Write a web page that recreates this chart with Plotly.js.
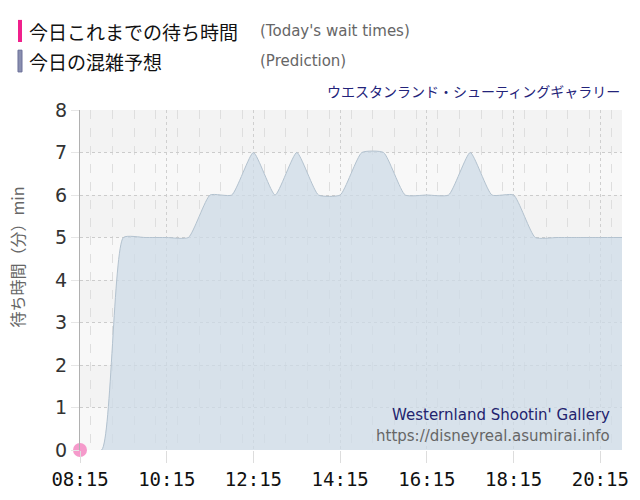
<!DOCTYPE html>
<html>
<head>
<meta charset="utf-8">
<script src="https://cdn.plot.ly/plotly-3.0.1.min.js"></script>
<style>
  body { margin: 0; background: #fff; }
  #chart { width: 640px; height: 500px; }
</style>
</head>
<body>
<div id="chart"></div>
<script>
// prediction, every 30 minutes
var predTimes = ['08:15', '08:45', '09:15', '09:45', '10:15', '10:45', '11:15', '11:45',
                 '12:15', '12:45', '13:15', '13:45', '14:15', '14:45', '15:15', '15:45',
                 '16:15', '16:45', '17:15', '17:45', '18:15', '18:45', '19:15', '19:45',
                 '20:15', '20:45'];
var predWait  = [0, 0, 5, 5, 5, 5, 6, 6,
                 7, 6, 7, 6, 6, 7, 7, 6,
                 6, 6, 7, 6, 6, 5, 5, 5,
                 5, 5];
// today so far
var actualTimes = ['08:15'];
var actualWait  = [0];

var day = '2024-01-01 ';
var toDate = function (t) { return day + t; };

var yMax = 8;

var prediction = {
    x: predTimes.map(toDate),
    y: predWait,
    type: 'scatter',
    mode: 'lines',
    line: { shape: 'spline', smoothing: 0.5, color: '#b3c2cf', width: 1 },
    fill: 'tozeroy',
    fillcolor: 'rgba(205,219,231,0.75)',
    hoverinfo: 'skip'
};

var actual = {
    x: actualTimes.map(toDate),
    y: actualWait,
    type: 'scatter',
    mode: 'markers',
    marker: { color: '#f59acb', size: 14 },
    cliponaxis: false
};

// alternating horizontal bands
var shapes = [];
for (var i = 0; i < yMax; i++) {
    shapes.push({
        type: 'rect', xref: 'paper', yref: 'y', layer: 'below',
        x0: 0, x1: 1, y0: i, y1: i + 1,
        fillcolor: i % 2 ? '#f3f3f3' : '#f8f8f8', line: { width: 0 }
    });
}
// legend swatches
shapes.push({ type: 'rect', xref: 'paper', yref: 'paper', x0: -0.1144, x1: -0.107, y0: 1.265, y1: 1.2,
              fillcolor: '#f0208c', line: { width: 0 } });
shapes.push({ type: 'rect', xref: 'paper', yref: 'paper', x0: -0.1144, x1: -0.107, y0: 1.176, y1: 1.112,
              fillcolor: '#8a8fb0', line: { width: 1, color: '#6a6f98' } });

var legendFont = { family: 'Noto Sans CJK JP', size: 19, color: '#111' };
var noteFont = { family: 'DejaVu Sans', size: 15, color: '#666' };

var annotations = [
    { text: '今日これまでの待ち時間', x: -0.097, y: 1.232, xref: 'paper', yref: 'paper',
      xanchor: 'left', yanchor: 'middle', showarrow: false, font: legendFont },
    { text: '(Today\'s wait times)', x: 0.328, y: 1.232, xref: 'paper', yref: 'paper',
      xanchor: 'left', yanchor: 'middle', showarrow: false, font: noteFont },
    { text: '今日の混雑予想', x: -0.097, y: 1.144, xref: 'paper', yref: 'paper',
      xanchor: 'left', yanchor: 'middle', showarrow: false, font: legendFont },
    { text: '(Prediction)', x: 0.328, y: 1.144, xref: 'paper', yref: 'paper',
      xanchor: 'left', yanchor: 'middle', showarrow: false, font: noteFont },
    { text: 'ウエスタンランド・シューティングギャラリー', x: 1, y: 1.056, xref: 'paper', yref: 'paper',
      xanchor: 'right', yanchor: 'middle', showarrow: false,
      font: { family: 'Noto Sans CJK JP', size: 14, color: '#23237a' } },
    { text: '待ち時間（分）min', x: -0.117, y: 0.568, xref: 'paper', yref: 'paper', textangle: -90,
      xanchor: 'center', yanchor: 'middle', showarrow: false,
      font: { family: 'Noto Sans CJK JP', size: 16, color: '#666' } },
    { text: 'Westernland Shootin\' Gallery', x: 0.982, y: 0.103, xref: 'paper', yref: 'paper',
      xanchor: 'right', yanchor: 'middle', showarrow: false,
      font: { family: 'DejaVu Sans', size: 15, color: '#23236e' } },
    { text: 'https://disneyreal.asumirai.info', x: 0.982, y: 0.041, xref: 'paper', yref: 'paper',
      xanchor: 'right', yanchor: 'middle', showarrow: false,
      font: { family: 'DejaVu Sans', size: 15, color: '#666' } }
];

var layout = {
    width: 640,
    height: 500,
    margin: { l: 80, r: 18, t: 110, b: 50 },
    paper_bgcolor: '#fff',
    plot_bgcolor: '#f8f8f8',
    showlegend: false,
    shapes: shapes,
    annotations: annotations,
    xaxis: {
        type: 'date',
        range: [toDate('08:15'), toDate('20:45')],
        tick0: toDate('08:15'),
        dtick: 2 * 3600 * 1000,
        tickformat: '%H:%M',
        ticks: 'outside', ticklen: 12, tickcolor: '#ddd',
        showgrid: true, gridcolor: '#cfcfcf', griddash: 'dot',
        minor: { dtick: 30 * 60 * 1000, showgrid: true, gridcolor: '#dedede', griddash: 'dash', ticks: '' },
        showline: false, zeroline: false,
        tickfont: { family: 'DejaVu Sans Mono', size: 19, color: '#111' },
        fixedrange: true
    },
    yaxis: {
        range: [0, yMax],
        dtick: 1,
        showgrid: true, gridcolor: '#cccccc', griddash: 'dot',
        showline: true, linecolor: '#b0b0b0', linewidth: 1,
        zeroline: false,
        ticks: 'outside', ticklen: 8, tickcolor: '#e6e6e6',
        tickfont: { family: 'DejaVu Sans', size: 19, color: '#333' },
        fixedrange: true
    }
};

Plotly.newPlot('chart', [prediction, actual], layout, { staticPlot: true });
</script>
</body>
</html>
